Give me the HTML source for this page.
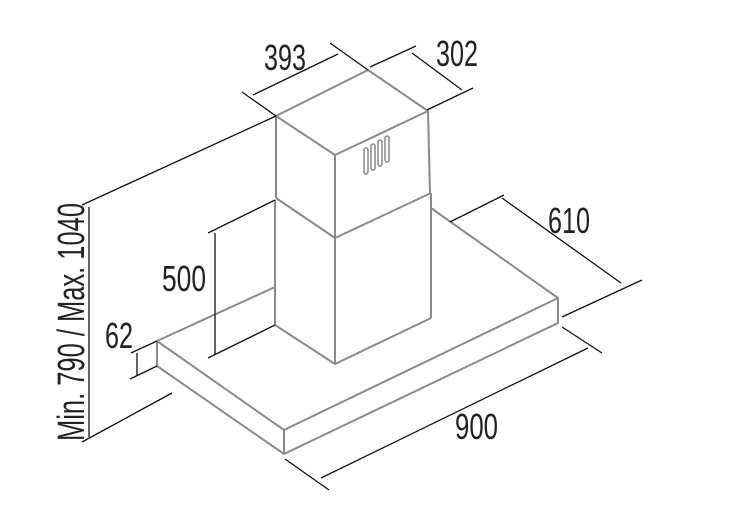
<!DOCTYPE html>
<html><head><meta charset="utf-8"><style>
html,body{margin:0;padding:0;background:#fff;}
svg{display:block;}
text{font-family:"Liberation Sans Narrow","Liberation Sans",sans-serif;fill:#222;}
</style></head><body>
<svg width="750" height="522" viewBox="0 0 750 522" xmlns="http://www.w3.org/2000/svg">
<g stroke="#8a8a8a" stroke-width="2" fill="none" stroke-linejoin="round">
<polygon points="276,116 368,70 428,111 335,155"/>
<line x1="276" y1="116" x2="276" y2="198"/>
<line x1="335" y1="155" x2="335" y2="238"/>
<line x1="428" y1="111" x2="430" y2="193"/>
<polyline points="276,198 335,238 431,193"/>
<line x1="275" y1="200" x2="275" y2="325"/>
<line x1="335" y1="238" x2="335" y2="364"/>
<line x1="431" y1="193" x2="431" y2="318"/>
<polyline points="275,325 335,364 431,318"/>
<line x1="275" y1="287" x2="157" y2="341"/>
<line x1="431" y1="208" x2="558" y2="298"/>
<polygon points="157,341 284,430 558,298 558,323 284,454 157,366"/>
<line x1="284" y1="430" x2="284" y2="454"/>
<g stroke-width="1.5">
<rect x="364" y="148" width="4" height="26" rx="2"/>
<rect x="371" y="144" width="4" height="26" rx="2"/>
<rect x="378" y="140" width="4" height="26" rx="2"/>
<rect x="385" y="136" width="4" height="26" rx="2"/>
</g>
</g>
<g stroke="#111" stroke-width="1.3" fill="none">
<line x1="242" y1="92" x2="276" y2="116"/>
<line x1="330" y1="43" x2="368" y2="70"/>
<line x1="253" y1="95" x2="338" y2="54"/>
<line x1="370" y1="67" x2="416" y2="46"/>
<line x1="427" y1="110" x2="473" y2="88"/>
<line x1="412" y1="53" x2="462" y2="90"/>
<line x1="276" y1="116" x2="82" y2="205"/>
<line x1="89" y1="207" x2="89" y2="437"/>
<line x1="82" y1="442" x2="172" y2="393"/>
<line x1="215" y1="233" x2="215" y2="355"/>
<line x1="208" y1="233" x2="275" y2="200"/>
<line x1="208" y1="358" x2="275" y2="325"/>
<line x1="137" y1="353" x2="137" y2="375"/>
<line x1="131" y1="353" x2="157" y2="341"/>
<line x1="130" y1="379" x2="157" y2="366"/>
<line x1="450" y1="222" x2="504" y2="195"/>
<line x1="502" y1="198" x2="621" y2="283"/>
<line x1="562" y1="317" x2="642" y2="280"/>
<line x1="562" y1="327" x2="602" y2="353"/>
<line x1="588" y1="348" x2="321" y2="478"/>
<line x1="285" y1="459" x2="329" y2="490"/>
</g>
<g font-size="36">
<text x="264" y="70" textLength="42" lengthAdjust="spacingAndGlyphs">393</text>
<text x="436" y="66" textLength="42" lengthAdjust="spacingAndGlyphs">302</text>
<text x="548" y="233" textLength="42" lengthAdjust="spacingAndGlyphs">610</text>
<text x="162" y="291" textLength="44" lengthAdjust="spacingAndGlyphs">500</text>
<text x="105" y="348" textLength="28" lengthAdjust="spacingAndGlyphs">62</text>
<text x="455" y="439" textLength="43" lengthAdjust="spacingAndGlyphs">900</text>
<text font-size="38" transform="translate(84,441) rotate(-90)" textLength="238" lengthAdjust="spacingAndGlyphs">Min. 790 / Max. 1040</text>
</g>
</svg>
</body></html>
